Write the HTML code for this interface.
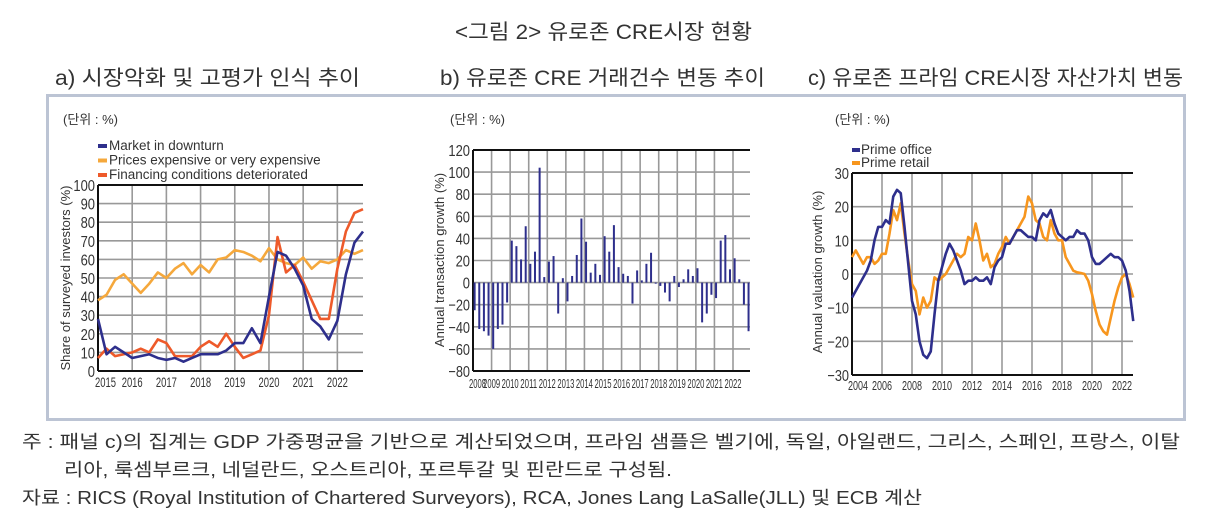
<!DOCTYPE html>
<html><head><meta charset="utf-8">
<style>
body{margin:0;width:1210px;height:519px;background:#fff;overflow:hidden;font-family:"Liberation Sans","Noto Sans CJK KR",sans-serif;color:#333;}
.t{position:absolute;white-space:nowrap;transform-origin:0 0;}
</style></head><body>
<div class="t" data-w="297" style="left:455px;top:16px;font-size:21px;">&lt;그림 2&gt; 유로존 CRE시장 현황</div>
<div class="t" data-w="305" style="left:55px;top:62px;font-size:21px;">a) 시장악화 및 고평가 인식 추이</div>
<div class="t" data-w="325" style="left:440px;top:62px;font-size:21px;">b) 유로존 CRE 거래건수 변동 추이</div>
<div class="t" data-w="375" style="left:808px;top:62px;font-size:21px;">c) 유로존 프라임 CRE시장 자산가치 변동</div>
<div style="position:absolute;left:46px;top:94px;width:1134px;height:321px;border:3px solid #bcc4d4;"></div>
<div class="t" data-w="1158" style="left:22px;top:428px;font-size:18px;">주 : 패널 c)의 집계는 GDP 가중평균을 기반으로 계산되었으며, 프라임 샘플은 벨기에, 독일, 아일랜드, 그리스, 스페인, 프랑스, 이탈</div>
<div class="t" data-w="608" style="left:64px;top:456px;font-size:18px;">리아, 룩셈부르크, 네덜란드, 오스트리아, 포르투갈 및 핀란드로 구성됨.</div>
<div class="t" data-w="900" style="left:22px;top:484px;font-size:18px;">자료 : RICS (Royal Institution of Chartered Surveyors), RCA, Jones Lang LaSalle(JLL) 및 ECB 계산</div>
<svg id="s" width="1210" height="519" style="position:absolute;left:0;top:0" xmlns="http://www.w3.org/2000/svg" font-family="Liberation Sans, Noto Sans CJK KR, sans-serif"></svg>
<script>
// Panel a data (quarterly 2015Q1-2022Q4)
const aYears=["2015","2016","2017","2018","2019","2020","2021","2022"];
const aDownturn=[28,9,13,10,7,8,9,7,6,7,5,7,9,9,9,11,15,15,23,15,40,64,62,55,46,28,24,17,27,52,69,75];
const aPrices=[38,41,49,52,47,42,47,53,50,55,58,52,57,53,60,61,65,64,62,59,66,60,58,57,61,55,59,58,60,65,63,65];
const aFinancing=[7,12,8,9,10,12,10,17,15,8,8,8,13,16,13,20,13,7,9,11,30,72,53,57,48,38,28,28,55,75,85,87];
const aTicks=[0,10,20,30,40,50,60,70,80,90,100];
// Panel b data (quarterly 2008Q1-2022Q4)
const bYears=["2008","2009","2010","2011","2012","2013","2014","2015","2016","2017","2018","2019","2020","2021","2022"];
const bGrowth=[-25,-42,-44,-48,-60,-42,-38,-18,38,33,21,51,17,28,104,5,19,24,-28,4,-17,6,25,58,37,9,17,7,42,28,52,14,8,6,-19,11,2,17,27,-1,-3,-9,-17,6,-4,3,12,6,13,-36,-28,-11,-14,38,43,12,22,3,-20,-44];
const bTicks=[-80,-60,-40,-20,0,20,40,60,80,100,120];
// Panel c data (quarterly 2004Q1-2022Q4)
const cYears=["2004","2006","2008","2010","2012","2014","2016","2018","2020","2022"];
const cOffice=[-7,-5,-3,-1,1,4,10,14,14,16,15,23,25,24,14,3,-8,-12,-20,-24,-25,-23,-12,-2,2,6,9,7,4,1,-3,-2,-2,-1,-2,-2,-1,-3,2,4,5,9,9,11,13,13,12,11,11,10,16,18,17,19,15,12,11,10,11,11,13,12,12,10,5,3,3,4,5,6,5,5,4,1,-5,-14];
const cRetail=[5,7,5,3,5,5,3,4,6,6,12,19,16,21,12,4,-3,-5,-12,-7,-10,-8,-1,-2,-1,0,2,4,6,5,6,11,10,15,10,4,6,2,3,6,8,11,9,11,13,15,17,23,21,16,15,11,10,16,12,10,10,5,3,1,0.5,0.3,0,-2,-6,-11,-15,-17,-18,-13,-8,-4,-1,0,-3,-7];
const cTicks=[-30,-20,-10,0,10,20,30];

document.querySelectorAll('.t[data-w]').forEach(e=>{const w=e.getBoundingClientRect().width;e.style.transform='scaleX('+(+e.dataset.w/w)+')';});

const S=document.getElementById('s');const NS='http://www.w3.org/2000/svg';
function el(t,a,p){const e=document.createElementNS(NS,t);for(const k in a)e.setAttribute(k,a[k]);(p||S).appendChild(e);return e;}
function txt(x,y,s,a,p){const e=el('text',Object.assign({x:x,y:y,'font-size':13,fill:'#333'},a||{}),p);e.textContent=s;return e;}

function frame(g,x0,x1,y0,y1){
  el('line',{x1:x0,y1:y0,x2:x1,y2:y0,stroke:'#111','stroke-width':2},g);
  el('line',{x1:x0,y1:y0,x2:x0,y2:y1,stroke:'#111','stroke-width':2},g);
  el('line',{x1:x0,y1:y1,x2:x1,y2:y1,stroke:'#111','stroke-width':2},g);
}
function ylab(g,x,y,s,n){const t=txt(x,y,s,{'font-size':13,transform:'rotate(-90 '+x+' '+y+')','text-anchor':'middle'},g);}
function ytick(g,x,y,s){const t=txt(x,y,s,{'font-size':16,'text-anchor':'end',textLength:s.length*7.2,lengthAdjust:'spacingAndGlyphs'},g);}
function xtick(g,x,y,s,w,fs,anchor){const t=txt(x,y,s,{'font-size':fs,'text-anchor':anchor,textLength:w,lengthAdjust:'spacingAndGlyphs'},g);}

// ---------- Panel a ----------
(function(){
 const g=el('g',{});
 const X0=98,X1=363,Y0=185,Y1=371;
 const n=aDownturn.length;const qw=(X1-X0)/(n-1);
 const x=i=>X0+i*qw, y=v=>Y1-(v-0)/(100-0)*(Y1-Y0);
 aYears.forEach((yr,k)=>{const xx=x(k*4);if(k>0)el('line',{x1:xx,y1:Y0,x2:xx,y2:Y1,stroke:'#999','stroke-width':1.6},g);
  xtick(g,k==0?xx-3:xx,387,yr,21,14,k==0?'start':'middle');});
 aTicks.forEach(v=>{if(v>0&&v<100)el('line',{x1:X0,y1:y(v),x2:X1,y2:y(v),stroke:'#999','stroke-width':1.6},g);
  ytick(g,X0-3,y(v)+6,String(v));});
 frame(g,X0,X1,Y0,Y1);
 const series=[[aPrices,'#f5a83c','prices-expensive-line'],[aFinancing,'#ee5a2a','financing-deteriorated-line'],[aDownturn,'#2e2f8c','market-downturn-line']];
 series.forEach(([d,c,nm])=>{const p=el('polyline',{points:d.map((v,i)=>x(i)+','+y(v)).join(' '),fill:'none',stroke:c,'stroke-width':2.6,'stroke-linejoin':'round'},g);});
 ylab(g,70,278,'Share of surveyed investors (%)','y-axis-title');
 const u=txt(63,124,'(단위 : %)',{'font-size':13},g);
 [['Market in downturn','#2e2f8c'],['Prices expensive or very expensive','#f5a83c'],['Financing conditions deteriorated','#ee5a2a']].forEach((l,i)=>{
  const lg=el('g',{},g);
  el('rect',{x:98,y:144+i*14.5,width:9,height:4,fill:l[1]},lg);txt(109,150+i*14.5,l[0],{'font-size':13.5},lg);});
})();

// ---------- Panel b ----------
(function(){
 const g=el('g',{});
 const X0=473,X1=750,Y0=150,Y1=371;
 const yw=(733-X0)/14;const qw=yw/4;
 const y=v=>Y1-(v-(-80))/(120-(-80))*(Y1-Y0);
 bYears.forEach((yr,k)=>{const xx=X0+k*yw;if(k>0)el('line',{x1:xx,y1:Y0,x2:xx,y2:Y1,stroke:'#999','stroke-width':1.6},g);
  xtick(g,k==0?xx-4:xx,388,yr,17,13,k==0?'start':'middle');});
 bTicks.forEach(v=>{if(v>-80&&v<120)el('line',{x1:X0,y1:y(v),x2:X1,y2:y(v),stroke:'#999','stroke-width':1.6},g);
  ytick(g,X0-3,y(v)+6,String(v).replace('-','\u2212'));});
 frame(g,X0,X1,Y0,Y1);
 bGrowth.forEach((v,i)=>{const xc=X0+i*qw+qw*0.35;const r=el('rect',{x:xc-1,y:Math.min(y(v),y(0)),width:2,height:Math.abs(y(v)-y(0)),fill:'#2e2f8c'},g);
  });
 ylab(g,444,260,'Annual transaction growth (%)','y-axis-title');
 const u=txt(450,124,'(단위 : %)',{'font-size':13},g);
})();

// ---------- Panel c ----------
(function(){
 const g=el('g',{});
 const X0=852,X1=1133,Y0=173,Y1=375;
 const yr=15;const x=i=>X0+i*yr/4;
 const y=v=>Y1-(v-(-30))/(30-(-30))*(Y1-Y0);
 cYears.forEach((s,k)=>{const xx=X0+k*2*yr;if(k>0)el('line',{x1:xx,y1:Y0,x2:xx,y2:Y1,stroke:'#999','stroke-width':1.6},g);
  xtick(g,k==0?xx-4:xx,390,s,20,13,k==0?'start':'middle');});
 cTicks.forEach(v=>{if(v>-30&&v<30)el('line',{x1:X0,y1:y(v),x2:X1,y2:y(v),stroke:'#999','stroke-width':1.6},g);
  ytick(g,X0-3,y(v)+6,String(v).replace('-','\u2212'));});
 frame(g,X0,X1,Y0,Y1);
 [[cRetail,'#f7961e','prime-retail-line'],[cOffice,'#2e2f8c','prime-office-line']].forEach(([d,c,nm])=>{const p=el('polyline',{points:d.map((v,i)=>x(i)+','+y(v)).join(' '),fill:'none',stroke:c,'stroke-width':2.6,'stroke-linejoin':'round'},g);});
 ylab(g,822,272,'Annual valuation growth (%)','y-axis-title');
 const u=txt(835,124,'(단위 : %)',{'font-size':13},g);
 [['Prime office','#2e2f8c'],['Prime retail','#f7961e']].forEach((l,i)=>{
  const lg=el('g',{},g);
  el('rect',{x:852,y:148+i*13,width:8,height:4,fill:l[1]},lg);txt(861,154+i*13,l[0],{'font-size':13.5},lg);});
})();
</script>
</body></html>
